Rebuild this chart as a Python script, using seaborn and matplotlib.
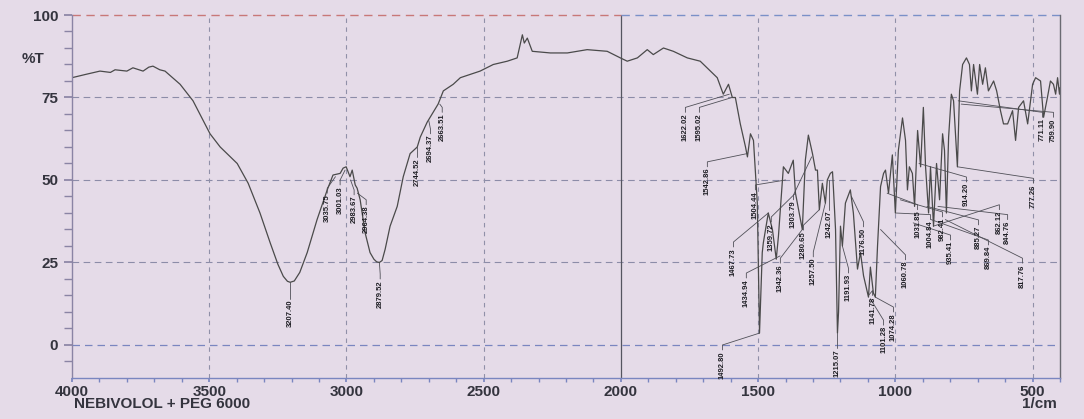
import numpy as np
import pandas as pd
import seaborn as sns
import matplotlib
matplotlib.use("Agg")
import matplotlib.pyplot as plt

# spectrum (wavenumber in 1/cm, %T)
wavenumber = [4000, 3950, 3898, 3860, 3843, 3800, 3778, 3741, 3720, 3705, 3680, 3661,
              3606, 3559, 3497, 3460, 3398, 3358, 3315, 3278, 3250, 3230, 3215, 3205,
              3190, 3170, 3143,
              3107, 3070, 3049, 3023, 3012, 3001, 2987, 2979, 2968, 2961, 2950, 2932,
              2914, 2900, 2890, 2880, 2870, 2859, 2841, 2815, 2793, 2768, 2742, 2731,
              2706, 2688, 2666,
              2647, 2611, 2585, 2513, 2465, 2414, 2378, 2359, 2352, 2341, 2323, 2257,
              2195, 2123, 2050, 2002, 1977, 1940, 1904, 1882, 1845, 1809, 1758, 1711,
              1674, 1649, 1627, 1608, 1594, 1583, 1565, 1546, 1539, 1528, 1517, 1503,
              1495, 1485, 1481, 1463, 1448, 1434, 1426, 1408, 1390, 1372, 1364, 1339,
              1328, 1317, 1302, 1291, 1284, 1277, 1266, 1255, 1248, 1237, 1229, 1226,
              1218, 1211, 1207, 1200, 1193, 1182, 1164, 1153, 1138, 1127, 1116, 1098,
              1091, 1080, 1073, 1065, 1054, 1043, 1036, 1025, 1011, 1000, 989, 974,
              963, 956, 949, 938, 930, 919, 908, 898, 890, 879, 872, 861, 850, 839,
              828, 821, 814, 806, 796, 788, 774, 766, 755, 741, 730, 723, 715, 701,
              693, 682, 672, 661, 642, 631, 617, 606, 591, 573, 562, 551, 533, 518,
              500, 489, 471, 460, 446, 435, 424, 416, 409, 402, 400]
transmittance = [81, 82, 83, 82.6, 83.4, 83, 84, 83, 84.2, 84.5, 83.4, 83,
                 79, 74, 64, 60, 55, 49, 40, 31, 24.5, 20.8, 19.3, 19,
                 19.4, 22, 28,
                 38, 47, 51.5, 52, 53.6, 54, 51, 53, 48.5, 47.5, 44, 34,
                 28, 26, 25.2, 25, 25.6, 29, 36, 42, 51, 58, 60, 63,
                 67.5, 70, 73,
                 77, 79, 81, 83, 85, 86, 87, 94, 91.5, 93, 89, 88.5,
                 88.5, 89.5, 89, 87, 86, 87, 89.5, 88, 90, 89, 87, 86,
                 83, 81, 76, 79, 75, 75, 67, 60, 57, 64, 62, 43,
                 3.6, 28, 31, 40, 35, 26, 33, 54, 52, 56, 46, 35,
                 56, 63.6, 58, 53, 53, 41, 49, 43, 50, 52, 52.5, 48,
                 35, 3.6, 10, 36, 30, 43, 47, 40, 23, 28, 21, 14.5,
                 23.6, 15.7, 14.5, 30, 48, 52, 53, 46, 57.6, 40, 59, 68.8,
                 62, 47, 54, 52, 42, 65, 54, 72, 54, 40, 54, 36, 55, 44,
                 64, 59, 40, 63, 76, 74, 54, 77, 85, 87, 85, 77, 85, 76,
                 85, 79, 84, 77, 80, 77, 71, 67, 67, 71, 62, 72, 74, 67,
                 79, 81, 80, 69, 75, 80, 79, 76, 81, 76, 78]

# peak labels: text, label x (1/cm), label top (%T), leader target x, leader target y
peak_text = ["3207.40", "3035.75", "3001.03", "2983.67", "2964.38", "2879.52",
             "2744.52", "2694.37", "2663.51", "1622.02", "1595.02", "1542.86",
             "1504.44", "1467.73", "1434.94", "1492.80", "1359.72", "1342.36",
             "1303.79", "1280.65", "1257.50", "1242.07", "1215.07", "1191.93",
             "1176.50", "1141.78", "1101.28", "1074.28", "1060.78", "1031.85",
             "1004.84", "982.41", "935.41", "914.20", "885.27", "869.84",
             "862.12", "844.76", "817.76", "777.26", "771.11", "759.90"]
label_x = [3205, 3070, 3023, 2972, 2928, 2877, 2742, 2694, 2651, 1765, 1714, 1685,
           1510, 1590, 1543, 1630, 1452, 1419, 1371, 1335, 1299, 1240, 1211, 1171,
           1116, 1083, 1043, 1007, 963, 919, 872, 828, 799, 741, 697, 661,
           621, 591, 537, 497, 464, 424]
label_top = [14, 46, 48.5, 45.5, 42.5, 20, 57, 64, 70.5, 70.5, 70.5, 54,
             47, 29.7, 20.3, -1.5, 37.3, 24.8, 44, 34.8, 26.7, 41, -1, 21.8,
             35.8, 15, 6, 10, 25.8, 41, 38, 38.8, 31.8, 49.4, 36.4, 30.3,
             41, 38, 24.8, 49, 69, 69]
target_x = [3205, 3040, 3005, 2985, 2960, 2880, 2742, 2700, 2660, 1605, 1595, 1540,
            1400, 1463, 1420, 1495, 1364, 1339, 1305, 1277, 1255, 1240, 1211, 1193,
            1160, 1098, 1091, 1073, 1054, 1030, 1000, 982, 935, 914, 885, 870,
            862, 845, 818, 774, 771, 760]
target_y = [19, 51, 53, 50, 46, 25, 60, 68, 73, 76, 75, 58,
            50, 40, 27, 3.6, 46, 35, 57, 41, 43, 50, 3.6, 30,
            45, 15, 14, 14.5, 35, 46, 40, 44, 37, 55, 42, 38,
            36, 42, 38, 54, 74, 73]

y_ticks = [100, 75, 50, 25, 0]
x_ticks = [4000, 3500, 3000, 2500, 2000, 1500, 1000, 500]

bg = "#e5dbe8"
sns.set_theme(style="white")
plt.rcParams["font.family"] = ["Liberation Sans", "DejaVu Sans"]

fig = plt.figure(figsize=(10.84, 4.19), dpi=100, facecolor=bg)
ax = fig.add_axes([0.0664, 0.0979, 0.9115, 0.8663])
ax.set_facecolor(bg)

df = pd.DataFrame({"wn": wavenumber, "T": transmittance})
sns.lineplot(data=df, x="wn", y="T", ax=ax, color="#4a4a4a", lw=0.9,
             sort=False, estimator=None)

ax.set_xlim(4000, 400)
ax.set_ylim(-10, 100)

# grid like the printout
for y in [75, 50, 25]:
    ax.axhline(y, color="#8c8ca8", lw=0.8, ls=(0, (6, 4)), zorder=0)
ax.axhline(0, color="#7a86c0", lw=0.9, ls=(0, (6, 4)), zorder=0)
ax.plot([4000, 2000], [100, 100], color="#c87878", lw=1.0, ls=(0, (6, 4)), clip_on=False)
ax.plot([2000, 400], [100, 100], color="#7a90c8", lw=1.0, ls=(0, (6, 4)), clip_on=False)
for x in [3500, 3000, 2500, 1500, 1000, 500]:
    ax.axvline(x, color="#9090a8", lw=0.8, ls=(0, (4, 4)), zorder=0)
ax.axvline(2000, color="#555560", lw=0.9, zorder=0)

ax.spines["top"].set_visible(False)
ax.spines["left"].set_color("#8a84a4")
ax.spines["right"].set_color("#6a6a72")
ax.spines["bottom"].set_color("#7a86c0")
for s in ["left", "right", "bottom"]:
    ax.spines[s].set_linewidth(1.0)

ax.set_yticks(y_ticks)
ax.set_yticks(np.arange(-5, 100, 5), minor=True)
ax.set_xticks(x_ticks)
ax.set_xticks(np.arange(4000, 399, -100), minor=True)
ax.tick_params(axis="y", which="both", direction="out", length=6, color="#8a84a4",
               labelsize=11, pad=4, left=True)
ax.tick_params(axis="x", which="both", direction="out", length=3, color="#7a86c0",
               labelsize=11, pad=2, bottom=True)
for lab in ax.get_xticklabels() + ax.get_yticklabels():
    lab.set_fontweight("bold")
    lab.set_color("#34343e")
ax.set_xlabel("")
ax.set_ylabel("")

ax.text(-0.028, 0.88, "%T", transform=ax.transAxes, ha="right", va="center",
        fontsize=11, fontweight="bold", color="#34343e")
fig.text(0.068, 0.035, "NEBIVOLOL + PEG 6000", ha="left", va="center",
         fontsize=11, fontweight="bold", color="#34343e")
fig.text(0.975, 0.035, "1/cm", ha="right", va="center",
         fontsize=11, fontweight="bold", color="#34343e")

# peak labels with leader lines
for t, lx, lt, tx, ty in zip(peak_text, label_x, label_top, target_x, target_y):
    knee = lt + 1.5
    ax.plot([lx, lx, tx], [lt, knee, ty], color="#505058", lw=0.6, zorder=1)
    ax.text(lx, lt - 0.3, t, rotation=90, ha="center", va="top", fontsize=5.5,
            fontweight="bold", color="#1e1e24")

fig.savefig("out.png", dpi=100, facecolor=bg)
